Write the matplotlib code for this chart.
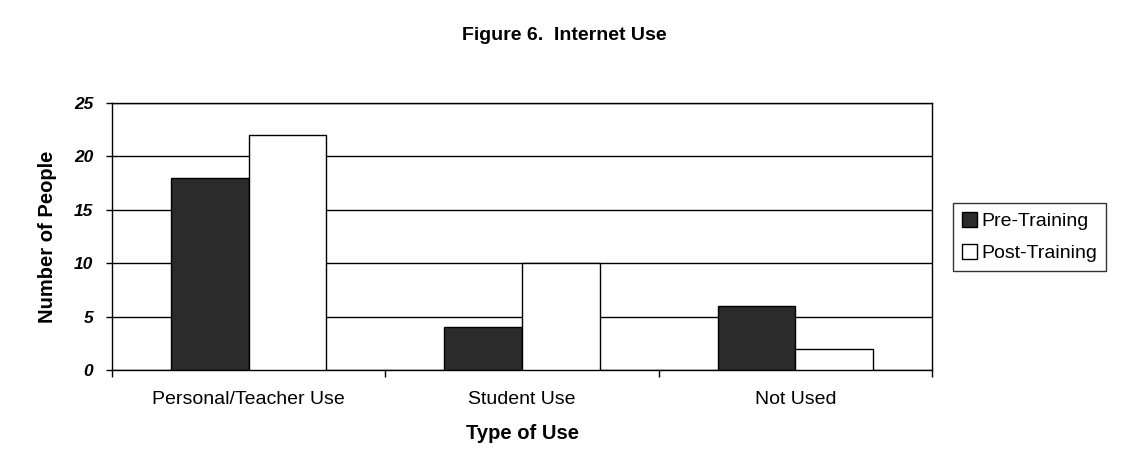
import numpy as np
import matplotlib.pyplot as plt
from matplotlib.patches import Patch

plt.rcParams['font.family'] = ['Liberation Sans', 'DejaVu Sans']

# Survey counts per type of internet use
categories = ['Personal/Teacher Use', 'Student Use', 'Not Used']
pre_training = [18, 4, 6]
post_training = [22, 10, 2]
y_ticks = [0, 5, 10, 15, 20, 25]

fig = plt.figure(figsize=(11.28, 4.76), dpi=100)
fig.patch.set_facecolor('white')
ax = fig.add_axes([0.0993, 0.2227, 0.7270, 0.5613])

x = np.arange(len(categories))
width = 0.284
ax.bar(x - width/2, pre_training, width, color='#2b2b2b', edgecolor='black', linewidth=1, zorder=3)
ax.bar(x + width/2, post_training, width, color='white', edgecolor='black', linewidth=1, zorder=3)

ax.set_xlim(-0.5, len(categories) - 0.5)
ax.set_ylim(0, 25)

# Horizontal gridlines at every major tick
ax.set_yticks(y_ticks)
ax.set_yticklabels([str(t) for t in y_ticks], fontweight='bold', fontstyle='italic', fontsize=12.5)
ax.yaxis.grid(True, color='black', linewidth=1)
ax.set_axisbelow(True)

# Category ticks sit between the groups, labels sit under the groups
ax.set_xticks(np.arange(len(categories) + 1) - 0.5)
ax.set_xticklabels([])
ax.set_xticks(x, minor=True)
ax.set_xticklabels(categories, minor=True, fontsize=14)
ax.tick_params(axis='x', which='minor', length=0, pad=15)
ax.tick_params(axis='x', which='major', length=5, direction='out', width=1)
ax.tick_params(axis='y', length=4.5, direction='out', width=1, pad=9)

for s in ax.spines.values():
    s.set_linewidth(1)
    s.set_color('black')

ax.set_xlabel('Type of Use', fontweight='bold', fontsize=14.5, labelpad=12)
ax.set_ylabel('Number of People', fontweight='bold', fontsize=14.5, labelpad=12)

fig.text(0.5, 0.925, 'Figure 6.  Internet Use', ha='center', va='center',
         fontweight='bold', fontsize=14)

handles = [Patch(facecolor='#2b2b2b', edgecolor='black', label='Pre-Training'),
           Patch(facecolor='white', edgecolor='black', label='Post-Training')]
leg = fig.legend(handles=handles, loc='upper left', bbox_to_anchor=(0.845, 0.573),
                 fontsize=14, frameon=True, fancybox=False, handlelength=0.8,
                 handleheight=0.8, handletextpad=0.2, borderpad=0.45,
                 labelspacing=0.7, borderaxespad=0)
leg.get_frame().set_edgecolor('black')
leg.get_frame().set_linewidth(1)

fig.savefig('out.png', dpi=100)
